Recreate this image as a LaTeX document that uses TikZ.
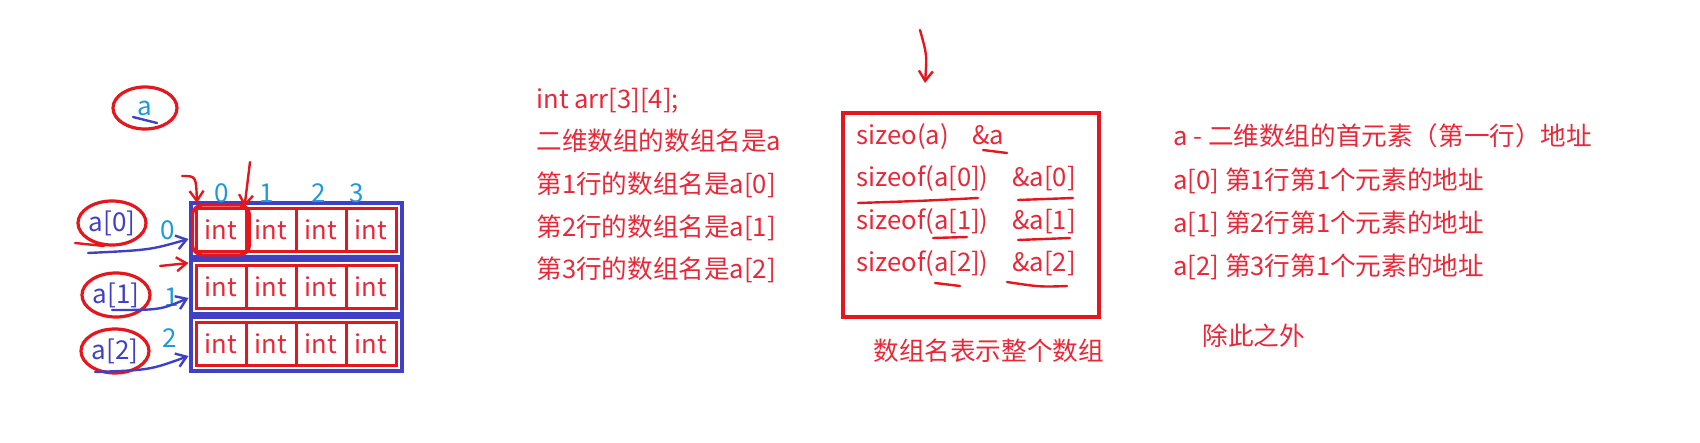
\documentclass[tikz,border=0pt]{standalone}
\usepackage{fontspec}
\setmainfont{Noto Sans CJK SC}
\usetikzlibrary{arrows.meta, positioning, fit, shapes.geometric, calc}
\definecolor{inkred}{RGB}{232,40,56}
\definecolor{penred}{RGB}{228,22,30}
\definecolor{penblue}{RGB}{64,64,196}
\definecolor{numcyan}{RGB}{30,154,214}

\begin{document}
\begin{tikzpicture}[x=0.5pt, y=-0.5pt,
    txt/.style={anchor=base west, inner sep=0pt, text=inkred, font=\fontsize{12.8}{15}\selectfont},
    cell/.style={draw=penred, line width=1.5pt, minimum width=25pt, minimum height=21.5pt, inner sep=0pt, text=inkred, font=\fontsize{12.8}{15}\selectfont},
    rowbox/.style={draw=penblue, line width=2pt, inner sep=2pt},
    rowname/.style={ellipse, draw=penred, line width=1.6pt, text=penblue, font=\fontsize{13}{15}\selectfont, minimum width=34pt, minimum height=22pt, inner sep=0pt},
    idx/.style={text=numcyan, font=\fontsize{13}{15}\selectfont, inner sep=0pt},
    pen/.style={draw=penred, line width=1.2pt, line cap=round},
    bluepen/.style={draw=penblue, line width=1.2pt, line cap=round},
    arrow/.style={-{Straight Barb[length=5pt, width=7pt]}}
  ]
  \useasboundingbox (0,0) rectangle (1700,443);

  % the array a itself
  \node[rowname, text=numcyan, minimum width=32pt, minimum height=21pt] (whole) at (145,108) {a};
  \draw[bluepen] (133,117) -- (157,123);

  % rows of int cells
  \foreach \r/\ry in {0/230, 1/287, 2/344} {
    \foreach \c in {0,...,3}
      \node[cell] (c\r\c) at ({221+50*\c}, \ry) {int};
    \node[rowbox, fit=(c\r0)(c\r3)] (row\r) {};
  }

  % row names
  \node[rowname] (n0) at (112,223) {a[0]};
  \node[rowname] (n1) at (116,295) {a[1]};
  \node[rowname] (n2) at (115,351) {a[2]};

  % indices
  \node[idx] (i0) at (168,230) {0};
  \node[idx] (i1) at (172,297) {1};
  \node[idx] (i2) at (170,338) {2};
  \node[idx] (j0) at (222,193) {0};
  \node[idx] (j1) at (267,193) {1};
  \node[idx] (j2) at (319,193) {2};
  \node[idx] (j3) at (357,193) {3};

  % blue arrows into rows
  \coordinate (s0) at (88,253);
  \coordinate (s1) at (112,310);
  \coordinate (s2) at (95,372);
  \draw[bluepen, arrow] (s0) .. controls (150,250) .. ($(row0.west)+(0,9)$);
  \draw[bluepen, arrow] (s1) .. controls (160,310) .. ($(row1.west)+(0,11)$);
  \draw[bluepen, arrow] (s2) .. controls (150,370) .. ($(row2.west)+(0,12)$);

  % red marks
  \draw[pen] (75,243) -- (104,246);
  \node[draw=penred, line width=1.6pt, rounded corners=5pt, fit=(c00), inner sep=1pt] (pick) {};
  \coordinate (h0) at (182,176);
  \coordinate (h1) at (197,203);
  \draw[pen, arrow] (h0) .. controls (196,176) .. (h1);
  \coordinate (v0) at (250,162);
  \draw[pen, arrow] (v0) -- (c01.north west);
  \coordinate (h2) at (160,266);
  \draw[pen, arrow] (h2) -- ($(row1.north west)+(0,5)$);

  % declaration and names
  \node[txt] (decl) at (536,109) {int arr[3][4];};
  \node[txt] (l1) at (536,151) {二维数组的数组名是a};
  \node[txt] (l2) at (536,193) {第1行的数组名是a[0]};
  \node[txt] (l3) at (536,236) {第2行的数组名是a[1]};
  \node[txt] (l4) at (536,278) {第3行的数组名是a[2]};

  % sizeof / address box
  \node[draw=penred, line width=2pt, minimum width=128pt, minimum height=102pt, inner sep=0pt] (sizebox) at (971,215) {};
  \coordinate (t0) at (920,30);
  \coordinate (t1) at (925,83);
  \draw[pen, arrow] (t0) .. controls (927,55) .. (t1);
  \node[txt] (sz0) at (856,145) {sizeo(a)};
  \node[txt] (ad0) at (972,145) {\&a};
  \node[txt] (sz1) at (856,187) {sizeof(a[0])};
  \node[txt] (ad1) at (1012,187) {\&a[0]};
  \node[txt] (sz2) at (856,229) {sizeof(a[1])};
  \node[txt] (ad2) at (1012,229) {\&a[1]};
  \node[txt] (sz3) at (856,271) {sizeof(a[2])};
  \node[txt] (ad3) at (1012,271) {\&a[2]};
  \draw[pen] (983,150) -- (1007,153);
  \draw[pen] (858,203) .. controls (920,201) .. (978,198);
  \draw[pen] (1018,200) -- (1073,198);
  \draw[pen] (933,238) -- (967,237);
  \draw[pen] (1018,240) -- (1070,238);
  \draw[pen] (935,283) -- (960,286);
  \draw[pen] (1007,282) .. controls (1040,287) .. (1067,286);
  \node[txt] (note) at (873,360) {数组名表示整个数组};

  % meaning of the names
  \node[txt] (m0) at (1173,146) {a - 二维数组的首元素（第一行）地址};
  \node[txt] (m1) at (1173,190) {a[0] 第1行第1个元素的地址};
  \node[txt] (m2) at (1173,233) {a[1] 第2行第1个元素的地址};
  \node[txt] (m3) at (1173,275) {a[2] 第3行第1个元素的地址};
  \node[txt] (other) at (1202,345) {除此之外};
\end{tikzpicture}
\end{document}
